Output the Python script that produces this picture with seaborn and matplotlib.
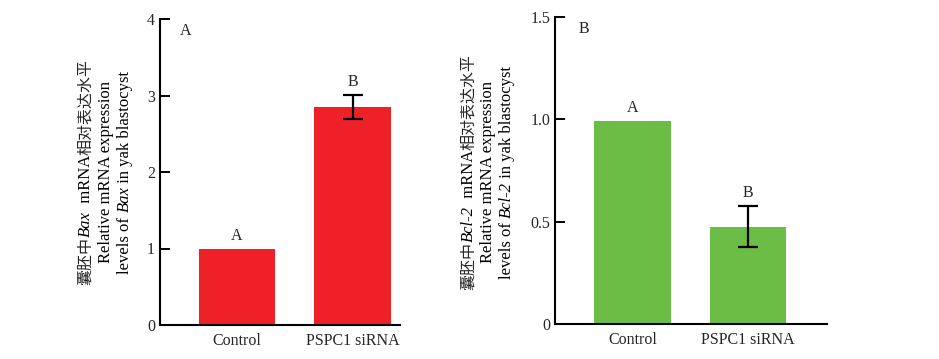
import matplotlib
matplotlib.use("Agg")
import matplotlib.pyplot as plt
from matplotlib.transforms import IdentityTransform
from matplotlib.font_manager import FontProperties
import seaborn as sns

# ---- data ----
categories = ["Control", "PSPC1 siRNA"]
bax_values = [1.0, 2.85]
bax_errors = [0.0, 0.16]
bax_letters = ["A", "B"]
bcl2_values = [0.99, 0.475]
bcl2_errors = [0.0, 0.10]
bcl2_letters = ["A", "B"]
bax_yticks = [0, 1, 2, 3, 4]
bax_yticklabels = ["0", "1", "2", "3", "4"]
bcl2_yticks = [0, 0.5, 1.0, 1.5]
bcl2_yticklabels = ["0", "0.5", "1.0", "1.5"]
panel_labels = ["A", "B"]

RED = "#EE2028"
GREEN = "#6CBD45"

sns.set_style("white")
plt.rcParams["font.family"] = ["Liberation Serif", "Noto Sans CJK SC", "DejaVu Sans"]

W, H = 939, 359
fig = plt.figure(figsize=(W / 100, H / 100), dpi=100)

def px_axes(l, t, r, b):
    return fig.add_axes([l / W, (H - b) / H, (r - l) / W, (b - t) / H])

ax1 = px_axes(160, 19, 400, 325)
ax2 = px_axes(555, 17, 827, 324)

def draw_panel(ax, values, errors, letters, color, ylim, yticks, yticklabels, xlim, panel):
    sns.barplot(x=categories, y=values, order=categories, color=color, width=0.66,
                errorbar=None, saturation=1, ax=ax, edgecolor="none", linewidth=0)
    xs = [i for i, e in enumerate(errors) if e > 0]
    ys = [values[i] for i in xs]
    es = [errors[i] for i in xs]
    if xs:
        ax.errorbar(xs, ys, yerr=es, fmt="none", ecolor="black", elinewidth=1.6,
                    capsize=7.5, capthick=1.6, zorder=5)
    for i, (v, e, lab) in enumerate(zip(values, errors, letters)):
        ax.annotate(lab, xy=(i, v + e), xytext=(0, 5), textcoords="offset pixels",
                    ha="center", va="bottom", fontsize=11.5)
    ax.set_xlim(*xlim)
    ax.set_ylim(*ylim)
    ax.set_yticks(yticks)
    ax.set_yticklabels(yticklabels)
    ax.tick_params(axis="y", left=True, direction="in", length=7, width=1.4,
                   color="black", labelsize=11.5, pad=3.5)
    ax.tick_params(axis="x", bottom=False, length=0, labelsize=11.5, pad=6)
    for s in ["top", "right"]:
        ax.spines[s].set_visible(False)
    for s in ["left", "bottom"]:
        ax.spines[s].set_linewidth(1.5)
        ax.spines[s].set_color("black")
    ax.set_xlabel("")
    ax.set_ylabel("")
    ax.text(0.105, 0.96, panel, transform=ax.transAxes, ha="center", va="center", fontsize=11.5)

draw_panel(ax1, bax_values, bax_errors, bax_letters, RED, (0, 4), bax_yticks,
           bax_yticklabels, (-0.667, 1.41), panel_labels[0])
draw_panel(ax2, bcl2_values, bcl2_errors, bcl2_letters, GREEN, (0, 1.5), bcl2_yticks,
           bcl2_yticklabels, (-0.668, 1.68), panel_labels[1])

renderer = fig.canvas.get_renderer()
CJK = FontProperties(family=["Noto Sans CJK SC"], size=11.5)
ROM = FontProperties(family=["Liberation Serif"], size=12)
ITA = FontProperties(family=["Liberation Serif"], style="italic", size=12)

def rot_line(x_px, yc_top, segments):
    widths = []
    for s, fp, c in segments:
        w, h, d = renderer.get_text_width_height_descent(s, fp, ismath=False)
        widths.append(w)
    total = sum(widths)
    y = (H - yc_top) - total / 2
    for (s, fp, c), w in zip(segments, widths):
        fig.text(x_px, y, s, transform=IdentityTransform(), rotation=90,
                 rotation_mode="anchor", ha="left", va="baseline",
                 fontproperties=fp, color=c)
        y += w

CJKC = "#262626"
def ylabel_block(xs, yc, gene):
    rot_line(xs[0], yc, [("囊胚中", CJK, CJKC), (gene, ITA, "black"),
                         ("  mRNA", ROM, "black"), ("相对表达水平", CJK, CJKC)])
    rot_line(xs[1], yc, [("Relative mRNA expression", ROM, "black")])
    rot_line(xs[2], yc, [("levels of ", ROM, "black"), (gene, ITA, "black"),
                         (" in yak blastocyst", ROM, "black")])

ylabel_block([90, 110, 129], 172, "Bax")
ylabel_block([473, 492, 511], 172, "Bcl-2")

fig.savefig("out.png", dpi=100)
